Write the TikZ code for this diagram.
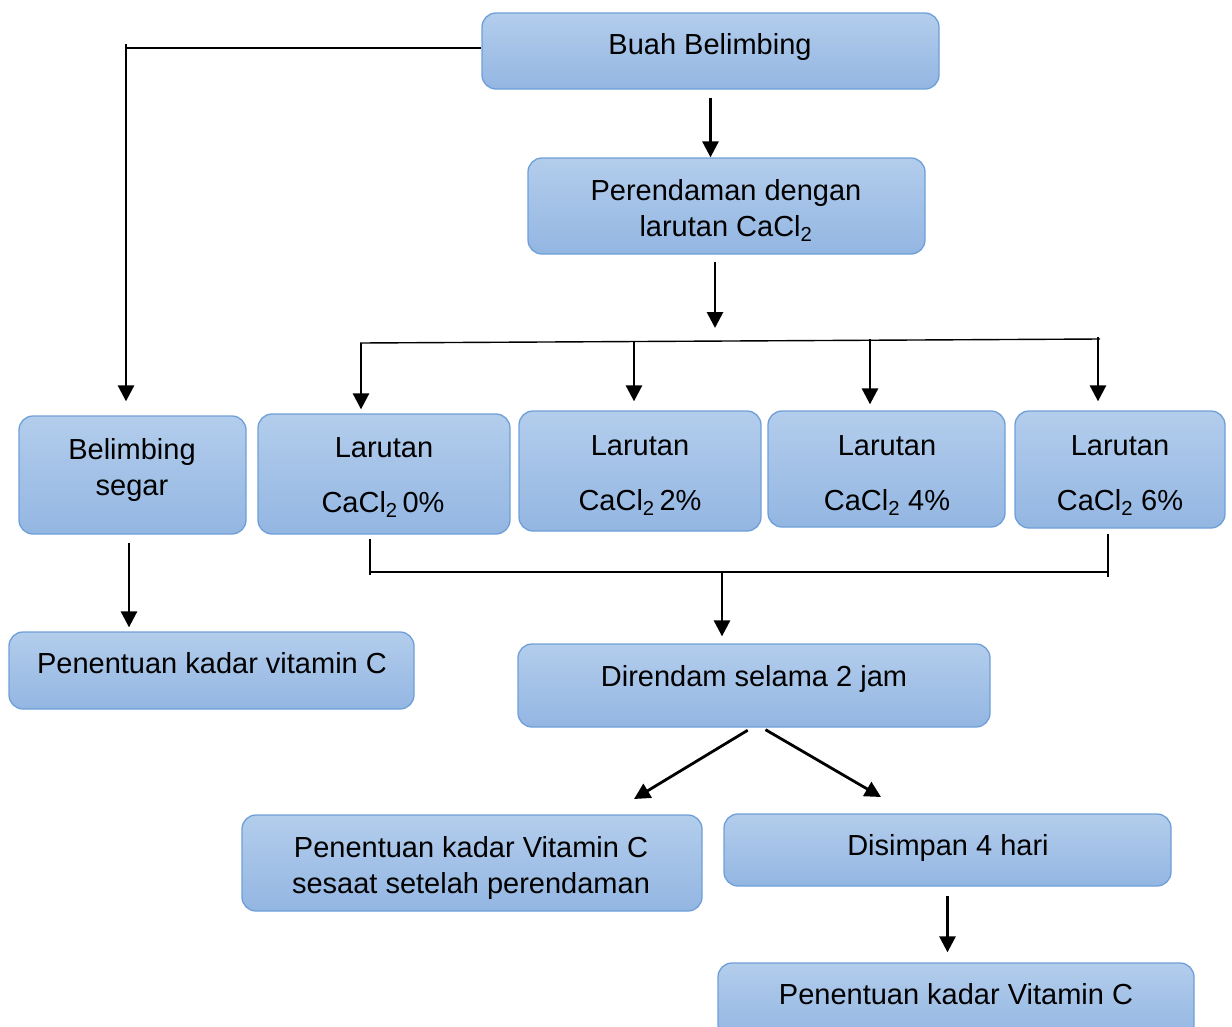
\documentclass[tikz,border=0pt]{standalone}
\usepackage{fontspec}
\setmainfont{Liberation Sans}
\usetikzlibrary{arrows.meta}

\definecolor{boxtop}{HTML}{B3CDEC}
\definecolor{boxbot}{HTML}{93B6E2}
\definecolor{boxline}{HTML}{6E9FD8}

\begin{document}
\begin{tikzpicture}[x=1pt, y=-1pt,
            box/.style={draw=boxline, line width=1.3pt, rounded corners=14pt, top color=boxtop, bottom color=boxbot, inner sep=0pt},
            txt/.style={font=\fontsize{29}{36}\selectfont, inner sep=0pt, anchor=base},
            arr/.style={line width=2.8pt, -{Triangle[width=16pt,length=16pt]}},
            link/.style={line width=1.4pt},
        ]
            \useasboundingbox (0,0) rectangle (1232,1026);
            \clip (0,0) rectangle (1232,1026);

            %Boxes
            \node[box, minimum width=457, minimum height=76](buah) at (710.5,51) {};
            \node[box, minimum width=397, minimum height=96](rend) at (726.5,206) {};
            \node[box, minimum width=227, minimum height=118](segar) at (132.5,475) {};
            \node[box, minimum width=252, minimum height=120](lar0) at (384,474) {};
            \node[box, minimum width=242, minimum height=120](lar2) at (640,471) {};
            \node[box, minimum width=237, minimum height=116](lar4) at (886.5,469) {};
            \node[box, minimum width=210, minimum height=117](lar6) at (1120,469.5) {};
            \node[box, minimum width=405, minimum height=77](kadar) at (211.5,670.5) {};
            \node[box, minimum width=472, minimum height=83](rendam) at (754,685.5) {};
            \node[box, minimum width=460, minimum height=96](sesaat) at (472,863) {};
            \node[box, minimum width=447, minimum height=72](simpan) at (947.5,850) {};
            \node[box, minimum width=476, minimum height=76](akhir) at (956,1001) {};

            %Texts
            \node[txt](buah-t) at (710,54) {Buah Belimbing};
            \node[txt](rend-t1) at (726,200) {Perendaman dengan};
            \node[txt](rend-t2) at (726,236) {larutan CaCl\textsubscript{2}};
            \node[txt](segar-t1) at (132,459) {Belimbing};
            \node[txt](segar-t2) at (132,495) {segar};
            \node[txt](lar0-t1) at (384,457) {Larutan};
            \node[txt](lar0-t2) at (383,512) {CaCl\textsubscript{2}\,0\%};
            \node[txt](lar2-t1) at (640,455) {Larutan};
            \node[txt](lar2-t2) at (640,510) {CaCl\textsubscript{2}\,2\%};
            \node[txt](lar4-t1) at (887,455) {Larutan};
            \node[txt](lar4-t2) at (887,510) {CaCl\textsubscript{2} 4\%};
            \node[txt](lar6-t1) at (1120,455) {Larutan};
            \node[txt](lar6-t2) at (1120,510) {CaCl\textsubscript{2} 6\%};
            \node[txt](kadar-t) at (212,673) {Penentuan kadar vitamin C};
            \node[txt](rendam-t) at (754,686) {Direndam selama 2 jam};
            \node[txt](sesaat-t1) at (471,857) {Penentuan kadar Vitamin C};
            \node[txt](sesaat-t2) at (471,893) {sesaat setelah perendaman};
            \node[txt](simpan-t) at (948,855) {Disimpan 4 hari};
            \node[txt](akhir-t) at (956,1004) {Penentuan kadar Vitamin C};

            %Junctions
            \coordinate (kiri) at (126,48);
            \coordinate (bagi) at (715,342);
            \coordinate (bagiL) at (360,343);
            \coordinate (bagiR) at (1100,339);
            \coordinate (b0) at (361,343);
            \coordinate (b2) at (634,341);
            \coordinate (b4) at (870,339);
            \coordinate (b6) at (1098,337);
            \coordinate (gabL) at (370,572);
            \coordinate (gabR) at (1108,572);
            \coordinate (gab) at (722,572);
            \coordinate (kiriB) at (634,799);
            \coordinate (kananB) at (881,797);

            %Lines
            \draw[link](buah.west |- kiri) -- ([xshift=-1]kiri);
            \draw[arr, shorten <=-4, shorten >=14](kiri) -- (kiri |- segar.north);
            \draw[arr, shorten <=8](buah.south) -- (buah.south |- rend.north);
            \draw[arr, shorten <=7, shorten >=14](rend.south -| bagi) -- (bagi);
            \draw[link](bagiL) -- (bagiR);
            \draw[arr, shorten >=4](b0) -- (b0 |- lar0.north);
            \draw[arr, shorten >=9](b2) -- (b2 |- lar2.north);
            \draw[arr, shorten >=6](b4) -- (b4 |- lar4.north);
            \draw[arr, shorten >=9](b6) -- (b6 |- lar6.north);
            \draw[link, shorten <=4](lar0.south -| gabL) -- ([yshift=-3]gabL);
            \draw[link, shorten <=5](lar6.south -| gabR) -- ([yshift=-5]gabR);
            \draw[link](gabL) -- (gabR);
            \draw[arr, shorten >=7](gab) -- (gab |- rendam.north);
            \draw[arr, shorten <=8, shorten >=4](segar.south -| 129,0) -- (kadar.north -| 129,0);
            \draw[arr, shorten <=5]([xshift=-2]rendam.south) -- (kiriB);
            \draw[arr, shorten <=4]([xshift=8]rendam.south) -- (kananB);
            \draw[arr, shorten <=9, shorten >=10](simpan.south) -- (simpan.south |- akhir.north);
        \end{tikzpicture}
\end{document}
